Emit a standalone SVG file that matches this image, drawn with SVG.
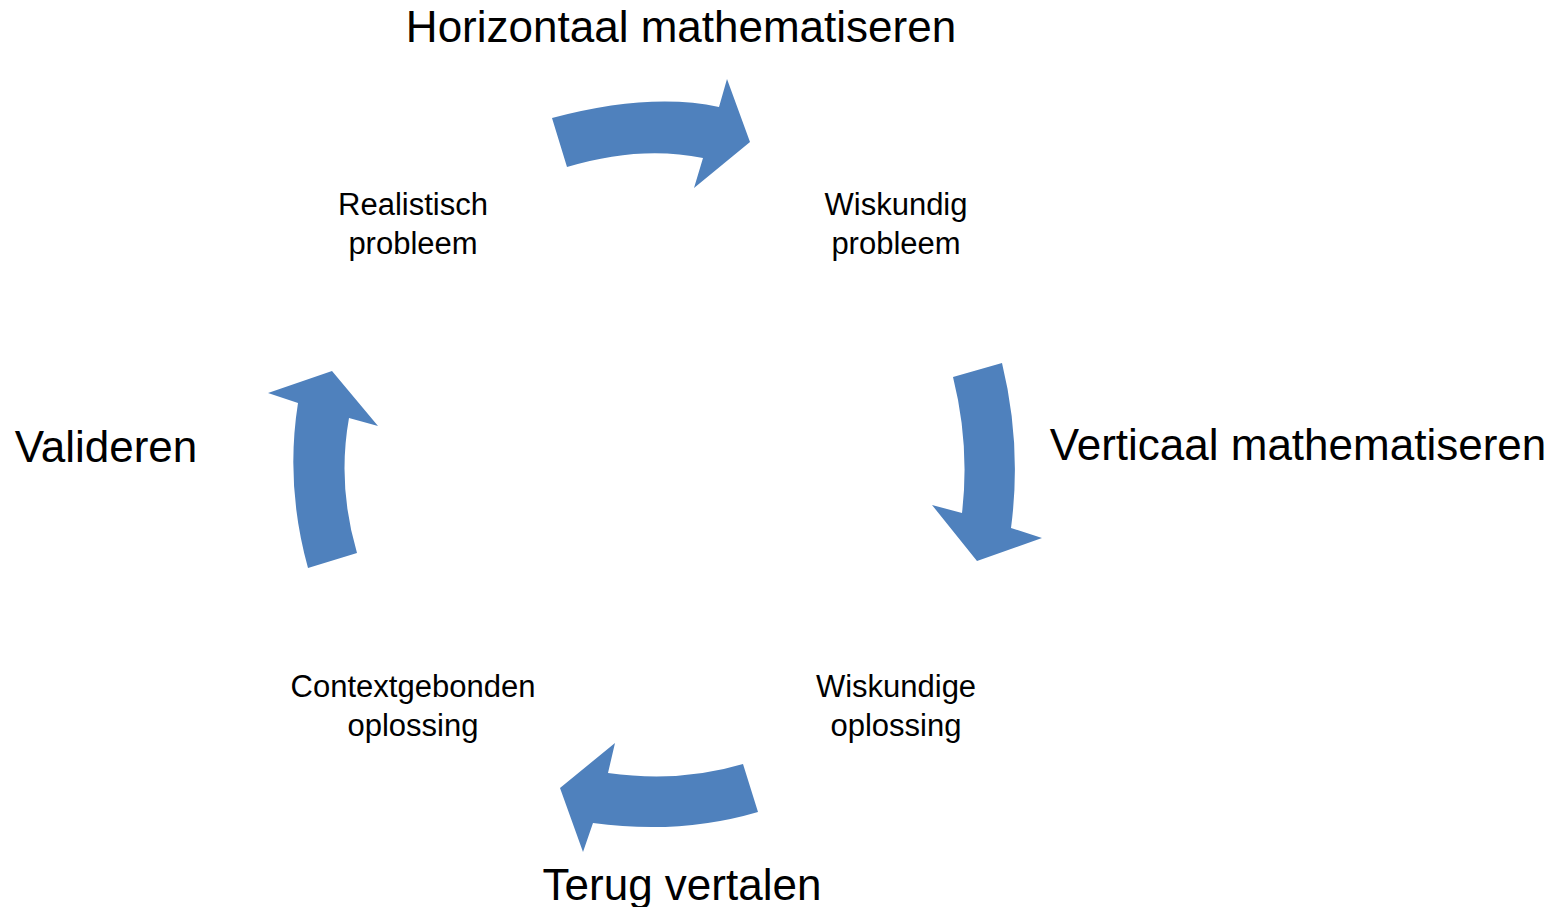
<svg xmlns="http://www.w3.org/2000/svg" width="1552" height="907" viewBox="0 0 1552 907">
<style>
.arrow{fill:#4F81BD;stroke:none}
.big{font-family:"Liberation Sans",Arial,sans-serif;font-size:44px;fill:#000;text-anchor:middle}
.small{font-family:"Liberation Sans",Arial,sans-serif;font-size:31px;fill:#000;text-anchor:middle}
</style>
<rect width="1552" height="907" fill="#ffffff"/>
<g id="connectors">
<path id="arrow-horizontaal" class="arrow" d="M552,118 Q650,92 719,107 L727,79 L750,142 L694,188 L703,158 Q640,145 567,167 Z"/>
<path id="arrow-verticaal" class="arrow" d="M953,377 L1002,363 Q1022,445 1011,528 L1042,538 L977,561 L932,505 L962,513 Q970,445 953,377 Z"/>
<path id="arrow-terug" class="arrow" d="M743,764 Q680,783 608,773 L615,743 L560,788 L583,852 L593,823 Q680,835 758,812 Z"/>
<path id="arrow-valideren" class="arrow" d="M308,568 Q285,485 298,403 L268,393 L332,371 L378,426 L349,418 Q337,485 357,553 Z"/>
</g>
<g id="label-horizontaal"><text class="big" x="681" y="42">Horizontaal mathematiseren</text></g>
<g id="label-verticaal"><text class="big" x="1298" y="460">Verticaal mathematiseren</text></g>
<g id="label-valideren"><text class="big" x="106" y="462">Valideren</text></g>
<g id="label-terug"><text class="big" x="682" y="900">Terug vertalen</text></g>
<g id="node-realistisch"><text class="small" x="413" y="215">Realistisch</text><text class="small" x="413" y="254">probleem</text></g>
<g id="node-wiskundig"><text class="small" x="896" y="215">Wiskundig</text><text class="small" x="896" y="254">probleem</text></g>
<g id="node-context"><text class="small" x="413" y="697">Contextgebonden</text><text class="small" x="413" y="736">oplossing</text></g>
<g id="node-wiskundige"><text class="small" x="896" y="697">Wiskundige</text><text class="small" x="896" y="736">oplossing</text></g>
</svg>
